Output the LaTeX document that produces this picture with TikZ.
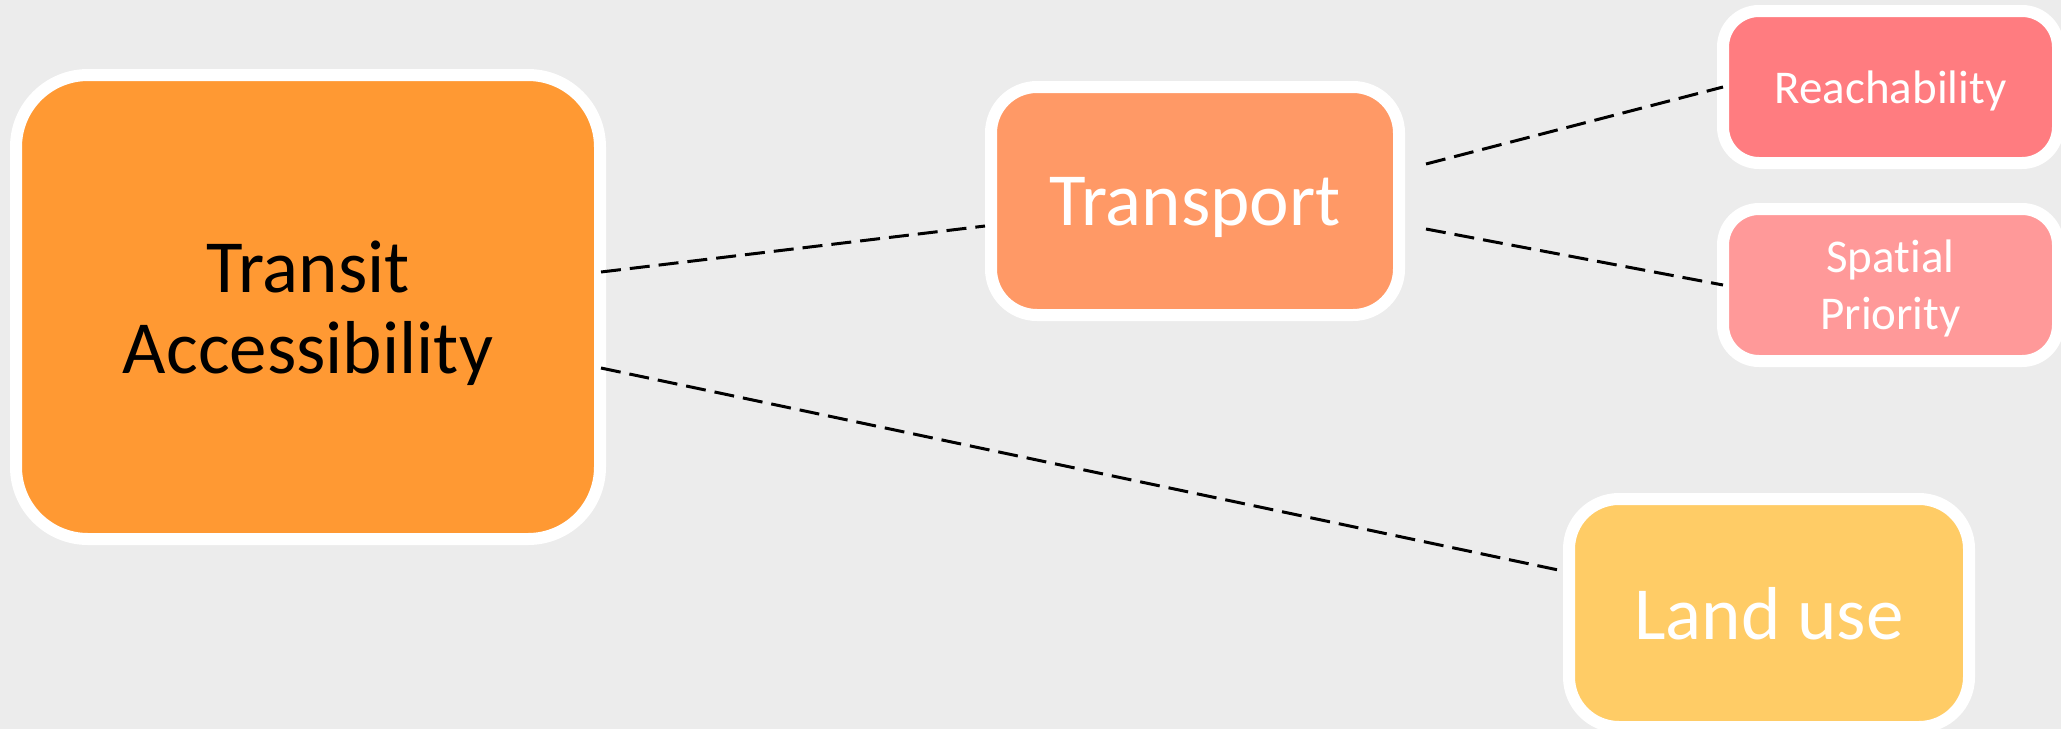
\documentclass[tikz,border=0pt]{standalone}
\usepackage{fontspec}
\setmainfont[Ligatures=NoCommon]{Carlito}
\usetikzlibrary{positioning}
\definecolor{bggray}{RGB}{236,236,236}
\definecolor{accorange}{RGB}{255,153,51}
\definecolor{transpeach}{RGB}{255,153,102}
\definecolor{reachred}{RGB}{255,124,128}
\definecolor{spatpink}{RGB}{255,153,153}
\definecolor{landyellow}{RGB}{255,204,102}
\tikzset{
  box/.style={draw=white, line width=12pt, text depth=0pt, align=center},
  link/.style={draw=black, line width=3pt, dash pattern=on 20pt off 9pt},
}

\begin{document}
\begin{tikzpicture}[
  x=1pt, y=-1pt,
  big/.style={box, font=\fontsize{75}{81}\selectfont},
  small/.style={box, font=\fontsize{47}{57}\selectfont, text=white,
    minimum width=335pt, minimum height=152pt, rounded corners=36pt}
]
\useasboundingbox (0,0) rectangle (2061,729);
\fill[bggray] (0,0) rectangle (2061,729);

% main box
\node[big, fill=accorange, minimum width=584pt, minimum height=464pt,
  rounded corners=72pt] (acc) at (308,307) {Transit\\Accessibility};

% second level
\node[big, fill=transpeach, text=white, minimum width=408pt, minimum height=228pt,
  rounded corners=46pt] (trans) at (1195,201) {Transport};
\node[big, fill=landyellow, text=white, minimum width=400pt, minimum height=228pt,
  rounded corners=50pt] (land) at (1769,613) {Land use};

% third level
\node[small, fill=reachred] (reach) at (1890.5,87) {Reachability};
\node[small, fill=spatpink, below=34pt of reach] (spat) {Spatial\\Priority};

\draw[link] ([xshift=-5pt,yshift=35pt]acc.east) -- ([yshift=-25pt]trans.west);
\draw[link] ([xshift=-5pt,yshift=-61pt]acc.east) -- ([yshift=42pt]land.west);
\draw[link] ([xshift=21pt,yshift=37pt]trans.east) -- ([xshift=6pt]reach.west);
\draw[link] ([xshift=21pt,yshift=-28pt]trans.east) -- ([xshift=6pt]spat.west);

\end{tikzpicture}
\end{document}
